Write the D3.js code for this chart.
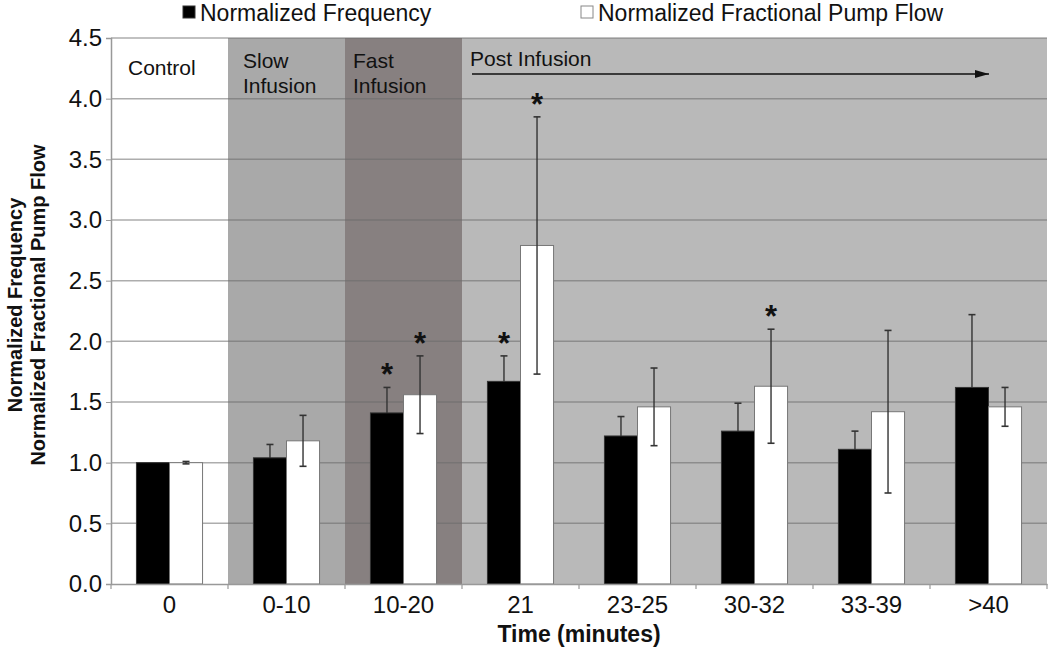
<!DOCTYPE html>
<html>
<head>
<meta charset="utf-8">
<script src="https://cdn.jsdelivr.net/npm/d3@7"></script>
<style>
  body { margin: 0; background: #fff; }
  text { font-family: "Liberation Sans", Arial, sans-serif; }
</style>
</head>
<body>
<div id="chart"></div>
<script>
// data
var categories = ["0", "0-10", "10-20", "21", "23-25", "30-32", "33-39", ">40"];
var series = ["Normalized Frequency", "Normalized Fractional Pump Flow"];
var freq = [1.0, 1.04, 1.41, 1.67, 1.22, 1.26, 1.11, 1.62];
var freqErr = [0, 0.11, 0.21, 0.21, 0.16, 0.23, 0.15, 0.60];
var flow = [1.0, 1.18, 1.56, 2.79, 1.46, 1.63, 1.42, 1.46];
var flowErr = [0.01, 0.21, 0.32, 1.06, 0.32, 0.47, 0.67, 0.16];
var freqStar = [false, false, true, true, false, false, false, false];
var flowStar = [false, false, true, true, false, true, false, false];
var yTicks = [0, 0.5, 1, 1.5, 2, 2.5, 3, 3.5, 4, 4.5];
var phaseNames = [["Control"], ["Slow", "Infusion"], ["Fast", "Infusion"], ["Post Infusion"]];
var phaseFrom = ["0", "0-10", "10-20", "21"];
var phaseTo = ["0", "0-10", "10-20", ">40"];
var phaseColors = ["#ffffff", "#a9a9a9", "#878080", "#b9b9b9"];

// where the phase labels sit inside their band
var labelDx = [17, 15, 8, 8];
var labelY = [37, 30, 30, 28];

var margin = { top: 38, right: 3, bottom: 68, left: 111 },
  width = 1050 - margin.left - margin.right,
  height = 652 - margin.top - margin.bottom;

var svg = d3.select("#chart")
  .append("svg")
  .attr("width", 1050)
  .attr("height", 652);

var g = svg.append("g")
  .attr("transform", "translate(" + margin.left + "," + margin.top + ")");

var x0 = d3.scaleBand()
  .domain(categories)
  .range([0, width])
  .padding(0);

var x1 = d3.scaleBand()
  .domain(series)
  .range([0, x0.bandwidth()])
  .paddingInner(0)
  .paddingOuter(0.77);

var y = d3.scaleLinear()
  .domain([0, 4.5])
  .range([height, 0]);

// phase shading
g.selectAll(".phase")
  .data(phaseNames)
  .enter()
  .append("rect")
  .attr("x", function (d, i) { return x0(phaseFrom[i]); })
  .attr("y", 0)
  .attr("width", function (d, i) { return x0(phaseTo[i]) + x0.bandwidth() - x0(phaseFrom[i]); })
  .attr("height", height)
  .style("fill", function (d, i) { return phaseColors[i]; });

// gridlines
g.append("g")
  .selectAll("line")
  .data(yTicks.slice(1))
  .enter()
  .append("line")
  .attr("x1", 0)
  .attr("x2", width)
  .attr("y1", function (d) { return y(d); })
  .attr("y2", function (d) { return y(d); })
  .style("stroke", "#6a6a6a")
  .style("stroke-opacity", 0.55)
  .style("stroke-width", 1.5);

// phase labels
phaseNames.forEach(function (lines, i) {
  var lx = x0(phaseFrom[i]) + labelDx[i];
  var t = g.append("text")
    .attr("x", lx)
    .attr("y", labelY[i])
    .style("font-size", "21px")
    .style("fill", "#111");
  lines.forEach(function (s, j) {
    t.append("tspan")
      .attr("x", lx)
      .attr("dy", j == 0 ? 0 : 25)
      .text(s);
  });
});

// post infusion arrow
svg.append("defs").append("marker")
  .attr("id", "arrow")
  .attr("viewBox", "0 0 14 8")
  .attr("refX", 14)
  .attr("refY", 4)
  .attr("markerWidth", 14)
  .attr("markerHeight", 8)
  .attr("markerUnits", "userSpaceOnUse")
  .attr("orient", "auto")
  .append("path")
  .attr("d", "M0,0L14,4L0,8Z")
  .style("fill", "#111");

g.append("line")
  .attr("x1", x0("21") + 10)
  .attr("x2", x0(">40") + 59)
  .attr("y1", 36)
  .attr("y2", 36)
  .style("stroke", "#111")
  .style("stroke-width", 1.5)
  .attr("marker-end", "url(#arrow)");

var rows = categories.map(function (c, i) {
  return [
    { cat: c, s: series[0], v: freq[i], e: freqErr[i], star: freqStar[i] },
    { cat: c, s: series[1], v: flow[i], e: flowErr[i], star: flowStar[i] }
  ];
});
var flat = [].concat.apply([], rows);

function drawErrors(data) {
  var errs = g.append("g")
    .selectAll("g")
    .data(data.filter(function (d) { return d.e > 0; }))
    .enter()
    .append("g")
    .attr("transform", function (d) {
      return "translate(" + (x0(d.cat) + x1(d.s) + x1.bandwidth() / 2) + ",0)";
    });
  errs.append("line")
    .attr("y1", function (d) { return y(d.v + d.e); })
    .attr("y2", function (d) { return y(d.v - d.e); })
    .style("stroke", "#333")
    .style("stroke-width", 1.4);
  errs.selectAll(".cap")
    .data(function (d) { return [d.v + d.e, d.v - d.e]; })
    .enter()
    .append("line")
    .attr("x1", -3.5)
    .attr("x2", 3.5)
    .attr("y1", function (v) { return y(v); })
    .attr("y2", function (v) { return y(v); })
    .style("stroke", "#333")
    .style("stroke-width", 1.6);
}

// frequency error bars sit behind their black bars
drawErrors(flat.filter(function (d) { return d.s == series[0]; }));

// bars
g.selectAll(".bar")
  .data(flat)
  .enter()
  .append("rect")
  .attr("x", function (d) { return x0(d.cat) + x1(d.s); })
  .attr("y", function (d) { return y(d.v); })
  .attr("width", x1.bandwidth())
  .attr("height", function (d) { return y(0) - y(d.v); })
  .style("fill", function (d) { return d.s == series[0] ? "#000" : "#fff"; })
  .style("stroke", function (d) { return d.s == series[0] ? "#333" : "#777"; })
  .style("stroke-width", 1);

drawErrors(flat.filter(function (d) { return d.s == series[1]; }));

// significance stars
g.selectAll(".star")
  .data(flat.filter(function (d) { return d.star; }))
  .enter()
  .append("text")
  .attr("x", function (d) { return x0(d.cat) + x1(d.s) + x1.bandwidth() / 2; })
  .attr("y", function (d) { return y(d.v + d.e) - 2; })
  .attr("text-anchor", "middle")
  .style("font-size", "31px")
  .style("font-weight", "bold")
  .style("fill", "#111")
  .text("*");

// axes
var yAxis = g.append("g")
  .call(d3.axisLeft(y).tickValues(yTicks).tickFormat(d3.format(".1f")).tickSize(5).tickPadding(4));
yAxis.select(".domain").style("stroke", "#999").style("stroke-width", 1.5);
yAxis.selectAll(".tick line").style("stroke", "#999");
yAxis.selectAll("text").style("font-size", "24px").style("fill", "#111")
  .style("font-family", "'Liberation Sans', Arial, sans-serif");

var xAxis = g.append("g")
  .attr("transform", "translate(0," + height + ")")
  .call(d3.axisBottom(x0).tickSize(0).tickPadding(12));
xAxis.select(".domain").style("stroke", "#999").style("stroke-width", 1.5);
xAxis.selectAll("text").style("font-size", "24px").style("fill", "#111")
  .style("font-family", "'Liberation Sans', Arial, sans-serif");

// boundary ticks on the x axis
g.append("g")
  .selectAll("line")
  .data(categories.concat(["end"]))
  .enter()
  .append("line")
  .attr("x1", function (d) { return d == "end" ? width : x0(d); })
  .attr("x2", function (d) { return d == "end" ? width : x0(d); })
  .attr("y1", height)
  .attr("y2", height + 5)
  .style("stroke", "#999")
  .style("stroke-width", 1.2);

// axis titles
svg.append("text")
  .attr("x", margin.left + width / 2)
  .attr("y", 642)
  .attr("text-anchor", "middle")
  .style("font-size", "23px")
  .style("font-weight", "bold")
  .style("fill", "#111")
  .text("Time (minutes)");

var yt = svg.append("text")
  .attr("transform", "translate(22," + (margin.top + height / 2 - 6) + ")rotate(-90)")
  .attr("text-anchor", "middle")
  .style("font-size", "20px")
  .style("font-weight", "bold")
  .style("fill", "#111");
yt.append("tspan").attr("x", 0).attr("dy", 0).text("Normalized Frequency");
yt.append("tspan").attr("x", 0).attr("dy", 23).text("Normalized Fractional Pump Flow");

// legend
var legendX = [183, 581];
var leg = svg.selectAll(".legend")
  .data(series)
  .enter()
  .append("g")
  .attr("transform", function (d, i) { return "translate(" + legendX[i] + ",6)"; });
leg.append("rect")
  .attr("width", 12)
  .attr("height", 12)
  .style("fill", function (d, i) { return i == 0 ? "#000" : "#fff"; })
  .style("stroke", function (d, i) { return i == 0 ? "#333" : "#888"; });
leg.append("text")
  .attr("x", 17)
  .attr("y", 15)
  .style("font-size", "23px")
  .style("fill", "#111")
  .text(function (d) { return d; });
</script>
</body>
</html>
